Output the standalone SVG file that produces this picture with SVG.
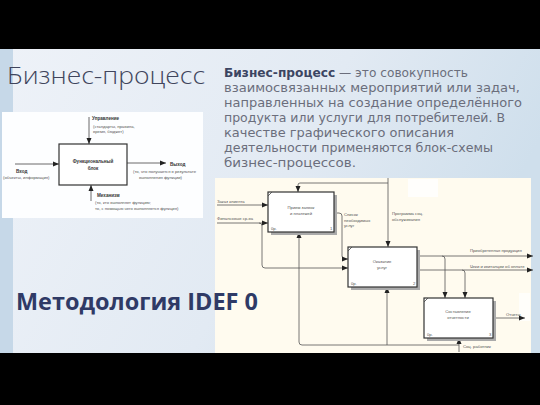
<svg xmlns="http://www.w3.org/2000/svg" width="540" height="405" viewBox="0 0 540 405">
<defs>
<linearGradient id="bg" x1="0" y1="0" x2="1" y2="0.3">
<stop offset="0" stop-color="#eef2f8"/>
<stop offset="0.6" stop-color="#e2eaf3"/>
<stop offset="1" stop-color="#cfdfec"/>
</linearGradient>
<marker id="ar" viewBox="0 0 6 6" refX="6" refY="3" markerWidth="6" markerHeight="6" markerUnits="userSpaceOnUse" orient="auto">
<path d="M0,0.5 L6,3 L0,5.5 Z" fill="#222"/>
</marker>
<style>
.t{font-family:"Liberation Sans",Arial,sans-serif;fill:#333;}
.s{font-size:4.2px;fill:#555;}
.sb{font-size:4.6px;font-weight:bold;fill:#333;}
.ln{fill:none;stroke:#444;stroke-width:0.8;}
.ln2{fill:none;stroke:#555;stroke-width:0.8;}
.box{fill:#fff;stroke:#333;stroke-width:1.2;}
.sh{fill:#aaa;}
.p{font-family:"DejaVu Sans","Open Sans",sans-serif;font-size:11.5px;fill:#6b6e7c;}
</style>
</defs>
<rect width="540" height="405" fill="#000"/>
<rect x="0" y="49" width="540" height="304" fill="url(#bg)"/>
<rect x="0" y="49" width="13" height="304" fill="#c6d8e8"/>
<rect x="215" y="178" width="316" height="175" fill="#fffbef"/>
<rect x="408" y="179" width="30" height="18" fill="#ffffff" opacity="0.8"/>
<rect x="519" y="293" width="11" height="28" fill="#ffffff" opacity="0.7"/>

<text x="7" y="84" font-family="'Open Sans','DejaVu Sans',sans-serif" font-weight="300" font-size="24" fill="#40455c" textLength="198" lengthAdjust="spacingAndGlyphs">Бизнес-процесс</text>

<g class="p">
<text x="224" y="77" textLength="244" lengthAdjust="spacingAndGlyphs"><tspan font-weight="bold" fill="#3c4562">Бизнес-процесс</tspan> — это совокупность</text>
<text x="224" y="92" textLength="296" lengthAdjust="spacingAndGlyphs">взаимосвязанных мероприятий или задач,</text>
<text x="224" y="107" textLength="298" lengthAdjust="spacingAndGlyphs">направленных на создание определённого</text>
<text x="224" y="122" textLength="281" lengthAdjust="spacingAndGlyphs">продукта или услуги для потребителей. В</text>
<text x="224" y="137" textLength="230" lengthAdjust="spacingAndGlyphs">качестве графического описания</text>
<text x="224" y="152" textLength="269" lengthAdjust="spacingAndGlyphs">деятельности применяются блок-схемы</text>
<text x="224" y="167" textLength="132" lengthAdjust="spacingAndGlyphs">бизнес-процессов.</text>
</g>

<text x="16" y="310" font-family="'Open Sans','DejaVu Sans',sans-serif" font-weight="bold" font-size="23.5" fill="#2f3a66" textLength="242" lengthAdjust="spacingAndGlyphs">Методология IDEF 0</text>

<!-- small IDEF0 legend diagram -->
<g id="legend">
<rect x="2" y="112" width="201" height="106" fill="#fdfeff"/>
<g id="legend-connectors">
<path class="ln" d="M89,117 V144" marker-end="url(#ar)"/>
<path class="ln" d="M15,164 H59" marker-end="url(#ar)"/>
<path class="ln" d="M127,163 H166" marker-end="url(#ar)"/>
<path class="ln" d="M91,201 V185" marker-end="url(#ar)"/>
</g>
<g id="legend-block">
<rect x="59" y="144" width="68" height="41" class="box"/>
<text class="t sb" x="93" y="163" text-anchor="middle">Функциональный</text>
<text class="t sb" x="93" y="169.5" text-anchor="middle">блок</text>
</g>
<text class="t sb" x="92" y="120">Управление</text>
<text class="t s" x="93" y="127.5">(стандарты, правила,</text>
<text class="t s" x="93" y="133">время, бюджет)</text>
<text class="t sb" x="16" y="172.5">Вход</text>
<text class="t s" x="3" y="179">(объекты, информация)</text>
<text class="t sb" x="170" y="165.5">Выход</text>
<text class="t s" x="133" y="172.5">(то, что получается в результате</text>
<text class="t s" x="139" y="179">выполнения функции)</text>
<text class="t sb" x="97" y="196.5">Механизм</text>
<text class="t s" x="95" y="204">(то, кто выполняет функцию;</text>
<text class="t s" x="95" y="210">то, с помощью чего выполняется функция)</text>
</g>

<!-- big diagram connectors -->
<g id="connectors">
<path class="ln2" d="M388,178 V247" marker-end="url(#ar)"/>
<path class="ln2" d="M388,183 H300 Q298,183 298,185 V192" marker-end="url(#ar)"/>
<path class="ln2" d="M217,205 H268" marker-end="url(#ar)"/>
<path class="ln2" d="M217,223 H268" marker-end="url(#ar)"/>
<path class="ln2" d="M259,223 Q262,223 262,226 V265 Q262,268 265,268 H348" marker-end="url(#ar)"/>
<path class="ln2" d="M334,213 H339 Q342,213 342,216 V256 Q342,259 345,259 H348" marker-end="url(#ar)"/>
<path class="ln2" d="M417,256 H533" marker-end="url(#ar)"/>
<path class="ln2" d="M417,270 H533" marker-end="url(#ar)"/>
<path class="ln2" d="M442,256 Q445,256 445,259 V298" marker-end="url(#ar)"/>
<path class="ln2" d="M462,270 Q465,270 465,273 V298" marker-end="url(#ar)"/>
<path class="ln2" d="M493,318 H525" marker-end="url(#ar)"/>
<path class="ln2" d="M459,352 V338" marker-end="url(#ar)"/>
<path class="ln2" d="M459,345 H302 Q299,345 299,342 V232" marker-end="url(#ar)"/>
<path class="ln2" d="M387,345 V287" marker-end="url(#ar)"/>
</g>

<g id="box1">
<rect x="271" y="195" width="66" height="40" class="sh"/>
<rect x="268" y="192" width="66" height="40" class="box"/>
<path d="M268,196 L272,192" class="ln"/>
<text class="t s" x="301" y="209" text-anchor="middle">Прием заявок</text>
<text class="t s" x="301" y="214.5" text-anchor="middle">и платежей</text>
<text class="t s" x="271" y="230">0р.</text>
<text class="t s" x="330" y="230">1</text>
</g>
<g id="box2">
<rect x="351" y="250" width="69" height="40" class="sh"/>
<rect x="348" y="247" width="69" height="40" class="box"/>
<path d="M348,251 L352,247" class="ln"/>
<text class="t s" x="382" y="263" text-anchor="middle">Оказание</text>
<text class="t s" x="382" y="269" text-anchor="middle">услуг</text>
<text class="t s" x="351" y="285">0р.</text>
<text class="t s" x="413" y="285">2</text>
</g>
<g id="box3">
<rect x="427" y="301" width="69" height="40" class="sh"/>
<rect x="424" y="298" width="69" height="40" class="box"/>
<path d="M424,302 L428,298" class="ln"/>
<text class="t s" x="458" y="313" text-anchor="middle">Составление</text>
<text class="t s" x="458" y="319" text-anchor="middle">отчетности</text>
<text class="t s" x="427" y="336">0р.</text>
<text class="t s" x="489" y="336">3</text>
</g>

<g id="labels">
<text class="t s" x="217" y="203">Заказ клиента</text>
<text class="t s" x="217" y="220">Финансовые ср-ва</text>
<text class="t s" x="344" y="216">Список</text>
<text class="t s" x="344" y="221.5">необходимых</text>
<text class="t s" x="344" y="227">услуг</text>
<text class="t s" x="392" y="215">Программа соц.</text>
<text class="t s" x="392" y="220.5">обслуживания</text>
<text class="t s" x="470" y="251.5">Приобретенная продукция</text>
<text class="t s" x="470" y="268">Чеки и квитанции об оплате</text>
<text class="t s" x="506" y="316">Отчеты</text>
<text class="t s" x="463" y="348">Соц. работник</text>
</g>
</svg>
